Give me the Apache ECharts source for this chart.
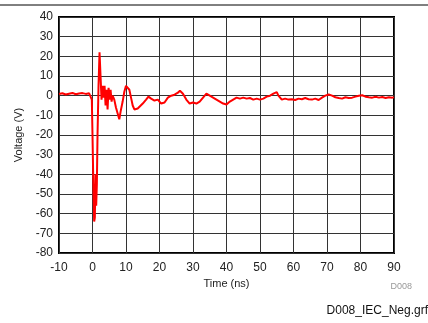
<!DOCTYPE html>
<html>
<head>
<meta charset="utf-8">
<script src="https://cdn.jsdelivr.net/npm/echarts@6/dist/echarts.min.js"></script>
<style>
  html, body { margin: 0; padding: 0; background: #fff; }
  #chart { width: 428px; height: 323px; }
</style>
</head>
<body>
<div id="chart"></div>
<script>
// waveform
var timeNs = [-10, -9, -8, -7, -6, -5, -4, -3, -2, -1, -0.5, -0.2, 0, 0.3, 0.5, 0.7, 0.9, 1.1, 1.3, 1.5, 1.8, 2.1, 2.4, 2.7,
    3.0, 3.3, 3.6, 3.9, 4.2, 4.5, 4.8, 5.1, 5.4, 5.7, 6.0, 6.5, 7.0, 7.5, 8.0, 8.4, 9.0, 9.5, 10, 10.5, 11, 11.5, 12, 12.5,
    13, 13.5, 14, 15, 16, 16.7, 17.5, 18.5, 19.5, 20.5, 21, 21.5, 22.5, 23.5, 24.5, 25.5, 26.1, 27, 28, 29, 30, 31, 32,
    33, 34, 35, 36, 37, 38, 39, 40, 41, 42, 43, 44, 45, 46, 47, 48, 49, 50, 51, 52, 53, 54, 55, 55.5, 56.5, 57.5, 58.5,
    59.5, 60.5, 61.5, 62.5, 63.5, 64.5, 65.5, 66.5, 67.5, 68.5, 69.5, 70.5, 71.5, 72.5, 73.5, 74.5, 75.5, 76.5, 77.5,
    78.5, 79.5, 80.5, 81.5, 82.5, 83.5, 84.5, 85.5, 86.5, 87.5, 88.5, 89.5, 90];
var voltage = [0.8, 1.2, 0.6, 1.0, 1.4, 0.7, 1.1, 1.3, 0.9, 1.2, 0.8, -2, -20, -50, -64, -62, -40, -56, -45, -20, 5, 22, 10, -2,
    5, -1, 5, -5, 3, -7, 4, -2, 3, -3, 0, -2, -6, -7, -12, -8, -3, 2, 5, 6, 3, -1, -5, -7,
    -6, -6.5, -5.5, -4, -2, -0.5, -1.5, -2.5, -2, -4, -5, -3.5, -1, 0, 0.5, 1.5, 2.5, 1, -2, -4, -3.5, -4, -3,
    -1, 1, 0, -1, -2, -3, -4, -4.5, -3, -2, -1, -1.5, -1, -1.5, -1.2, -2, -1.5, -2, -1.5, -0.5, 0, 1, 1.8, 0, -2, -1.5, -2,
    -1.8, -2.2, -1.5, -1.8, -1.2, -1.8, -2, -1.5, -2.2, -1, 0, 0.6, 0, -0.8, -1.2, -1.5, -0.8, -1.2, -1,
    -0.5, 0, 0.2, -0.5, -0.8, -1, -0.6, -1, -0.7, -1.2, -0.8, -1, -0.8];

var points = timeNs.map(function (t, i) { return [t, voltage[i]]; });

var chart = echarts.init(document.getElementById('chart'));
var font = 'Liberation Sans, Arial, sans-serif';

chart.setOption({
    animation: false,
    grid: {
        left: 59, right: 34, top: 17, bottom: 70,
        show: true, borderColor: '#000', borderWidth: 2
    },
    xAxis: {
        type: 'value',
        min: -10, max: 90, interval: 10,
        name: 'Time (ns)',
        nameLocation: 'middle',
        nameGap: 23,
        nameTextStyle: { color: '#222', fontSize: 11, fontFamily: font },
        axisLine: { show: false },
        axisTick: { show: false },
        axisLabel: { color: '#222', fontSize: 12, fontFamily: font, margin: 9 },
        splitLine: { lineStyle: { color: '#333', width: 1 } }
    },
    yAxis: {
        type: 'value',
        min: -80, max: 40, interval: 10,
        name: 'Voltage (V)',
        nameLocation: 'middle',
        nameGap: 33,
        nameTextStyle: { color: '#222', fontSize: 11, fontFamily: font },
        axisLine: { show: false },
        axisTick: { show: false },
        axisLabel: { color: '#222', fontSize: 12, fontFamily: font, margin: 6 },
        splitLine: { lineStyle: { color: '#333', width: 1 } }
    },
    series: [{
        type: 'line',
        data: points,
        showSymbol: false,
        lineStyle: { color: '#ff0000', width: 2 },
        z: 5
    }],
    graphic: [
        { type: 'line', shape: { x1: 0, y1: 5, x2: 428, y2: 5 }, style: { stroke: '#000', lineWidth: 1 } },
        { type: 'text', right: 16, top: 282, style: { text: 'D008', fill: '#999', font: '9px ' + font } },
        { type: 'text', right: 0, top: 305, style: { text: 'D008_IEC_Neg.grf', fill: '#111', font: '12px ' + font } }
    ]
});
</script>
</body>
</html>
